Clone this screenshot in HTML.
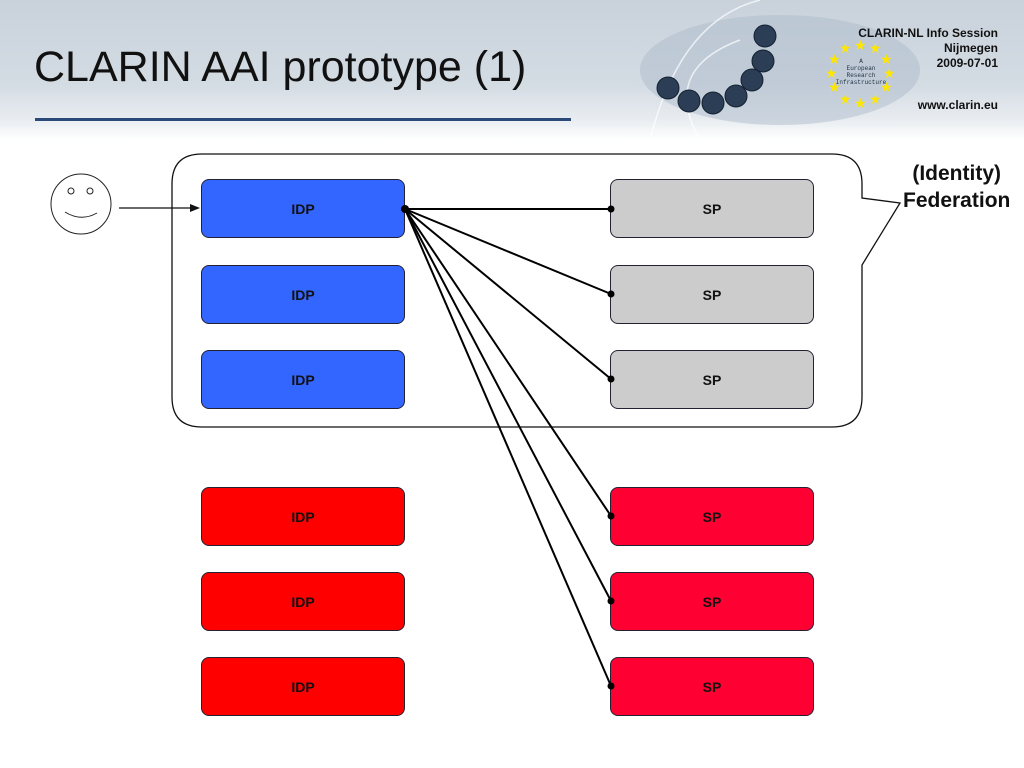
<!DOCTYPE html>
<html><head><style>
body{margin:0;width:1024px;height:768px;overflow:hidden;background:#fff;font-family:"Liberation Sans",sans-serif;position:relative}
.hdr{position:absolute;left:0;top:0;width:1024px;height:140px;background:linear-gradient(180deg,#c9d2db 0%,#d3dbe3 60%,#e8ecf0 85%,#fff 100%)}
.title{position:absolute;left:34px;top:43px;font-size:43px;color:#111}
.ul{position:absolute;left:35px;top:118px;width:536px;height:3px;background:#2a4a7a}
.info{position:absolute;right:26px;top:26px;text-align:right;font-weight:bold;font-size:12px;line-height:15px;color:#111}
.www{position:absolute;right:26px;top:98px;font-weight:bold;font-size:12px;color:#111}
.box{position:absolute;width:202px;height:57px;border:1px solid #223;border-radius:8px;display:flex;align-items:center;justify-content:center;font-weight:bold;font-size:14px;color:#111}
.b{background:#3366ff}.g{background:#cccccc}.r{background:#ff0000}.rs{background:#ff0033}
.fed{position:absolute;left:903px;top:160px;font-weight:bold;font-size:21px;line-height:27px;text-align:center;color:#111}
</style></head><body>
<div class="hdr"></div>
<svg style="position:absolute;left:0;top:0" width="1024" height="140">
<ellipse cx="780" cy="70" rx="140" ry="55" fill="#aebccc" opacity=".5"/>
<path d="M650 140 Q680 20 760 0" stroke="#fff" stroke-width="1.5" fill="none" opacity=".7"/>
<path d="M700 140 Q660 70 740 40" stroke="#fff" stroke-width="1.5" fill="none" opacity=".7"/>
<g fill="#2c3e55" stroke="#132030">
<circle cx="765" cy="36" r="11"/><circle cx="763" cy="61" r="11"/><circle cx="752" cy="80" r="11"/><circle cx="736" cy="96" r="11"/><circle cx="713" cy="103" r="11"/><circle cx="689" cy="101" r="11"/><circle cx="668" cy="88" r="11"/></g>
<g fill="#ffe600" font-size="14">
<text x="854" y="50">★</text><text x="839" y="53">★</text><text x="869" y="53">★</text><text x="828" y="64">★</text><text x="880" y="64">★</text><text x="825" y="78">★</text><text x="883" y="78">★</text><text x="828" y="92">★</text><text x="880" y="92">★</text><text x="839" y="104">★</text><text x="869" y="104">★</text><text x="854" y="108">★</text></g>
<g font-size="6" fill="#234" text-anchor="middle" font-family="Liberation Mono"><text x="861" y="63">A</text><text x="861" y="70">European</text><text x="861" y="77">Research</text><text x="861" y="84">Infrastructure</text></g>
</svg>
<div class="title">CLARIN AAI prototype (1)</div>
<div class="ul"></div>
<div class="info">CLARIN-NL Info Session<br>Nijmegen<br>2009-07-01</div>
<div class="www">www.clarin.eu</div>
<svg style="position:absolute;left:0;top:0" width="1024" height="768">
<path d="M202 154 H832 Q862 154 862 184 V198 L900 203 L862 265 V397 Q862 427 832 427 H202 Q172 427 172 397 V184 Q172 154 202 154 Z" fill="none" stroke="#111" stroke-width="1.3"/>
<circle cx="81" cy="204" r="30" fill="none" stroke="#222" stroke-width="1"/>
<circle cx="71" cy="191" r="3" fill="none" stroke="#222"/><circle cx="90" cy="191" r="3" fill="none" stroke="#222"/>
<path d="M65 212 Q81 222 97 213" fill="none" stroke="#222"/>
<line x1="119" y1="208" x2="192" y2="208" stroke="#111" stroke-width="1.2"/>
<polygon points="200,208 190,204 190,212" fill="#111"/>
</svg>
<div class="box b" style="left:201px;top:179px">IDP</div>
<div class="box b" style="left:201px;top:265px">IDP</div>
<div class="box b" style="left:201px;top:350px">IDP</div>
<div class="box r" style="left:201px;top:487px">IDP</div>
<div class="box r" style="left:201px;top:572px">IDP</div>
<div class="box r" style="left:201px;top:657px">IDP</div>
<div class="box g" style="left:610px;top:179px">SP</div>
<div class="box g" style="left:610px;top:265px">SP</div>
<div class="box g" style="left:610px;top:350px">SP</div>
<div class="box rs" style="left:610px;top:487px">SP</div>
<div class="box rs" style="left:610px;top:572px">SP</div>
<div class="box rs" style="left:610px;top:657px">SP</div>
<svg style="position:absolute;left:0;top:0" width="1024" height="768">
<g stroke="#000" stroke-width="2">
<line x1="405" y1="209" x2="611" y2="209"/><line x1="405" y1="209" x2="611" y2="294"/><line x1="405" y1="209" x2="611" y2="379"/><line x1="405" y1="209" x2="611" y2="516"/><line x1="405" y1="209" x2="611" y2="601"/><line x1="405" y1="209" x2="611" y2="686"/></g>
<g fill="#000"><circle cx="405" cy="209" r="4"/><circle cx="611" cy="209" r="3.5"/><circle cx="611" cy="294" r="3.5"/><circle cx="611" cy="379" r="3.5"/><circle cx="611" cy="516" r="3.5"/><circle cx="611" cy="601" r="3.5"/><circle cx="611" cy="686" r="3.5"/></g>
</svg>
<div class="fed">(Identity)<br>Federation</div>
</body></html>
